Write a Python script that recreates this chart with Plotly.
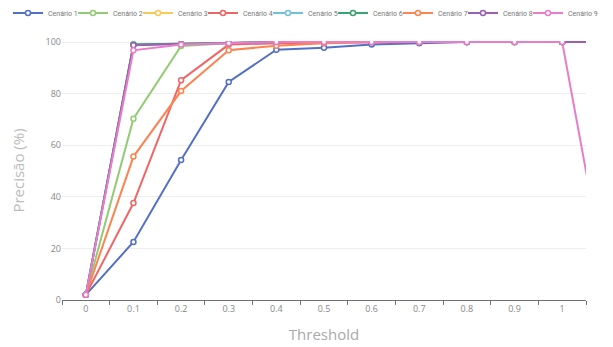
import plotly.graph_objects as go

thresholds = [0, 0.1, 0.2, 0.3, 0.4, 0.5, 0.6, 0.7, 0.8, 0.9, 1.0, 1.1]
tick_labels = ["0", "0.1", "0.2", "0.3", "0.4", "0.5", "0.6", "0.7", "0.8", "0.9", "1"]

cenario_1 = [2, 22.5, 54.3, 84.5, 97, 97.8, 99, 99.5, 100, 100, 100, 100]
cenario_2 = [2, 70.3, 98.5, 99.5, 100, 100, 100, 100, 100, 100, 100, 100]
cenario_3 = [2, 99, 99.3, 99.6, 100, 100, 100, 100, 100, 100, 100, 100]
cenario_4 = [2, 37.6, 85.2, 99, 99.5, 99.7, 100, 100, 100, 100, 100, 100]
cenario_5 = [2, 99, 99.3, 99.6, 100, 100, 100, 100, 100, 100, 100, 100]
cenario_6 = [2, 99, 99.3, 99.6, 100, 100, 100, 100, 100, 100, 100, 100]
cenario_7 = [2, 55.6, 81, 96.8, 98.6, 99.5, 100, 100, 100, 100, 100, 100]
cenario_8 = [2, 98.8, 99.2, 99.6, 100, 100, 100, 100, 100, 100, 100, 100]
cenario_9 = [2, 96.8, 99, 99.5, 100, 100, 100, 100, 100, 100, 100, 0]

series_names = ["Cenário 1", "Cenário 2", "Cenário 3", "Cenário 4", "Cenário 5",
                "Cenário 6", "Cenário 7", "Cenário 8", "Cenário 9"]
series_values = [cenario_1, cenario_2, cenario_3, cenario_4, cenario_5,
                 cenario_6, cenario_7, cenario_8, cenario_9]
colors = ["#5470c6", "#91cc75", "#fac858", "#ee6666", "#73c0de",
          "#3ba272", "#fc8452", "#9a60b4", "#ea7ccc"]

FONT = "Open Sans, Noto Sans, sans-serif"
LEGEND_FONT = "Roboto, Liberation Sans, sans-serif"
# page has an 8px body margin, so the figure is sized to fill the rest
W, H = 605, 339
LEGEND_X0, LEGEND_STEP = 0, 65

fig = go.Figure()
legend_layouts = {}
for i, (name, vals, col) in enumerate(zip(series_names, series_values, colors)):
    lg = "legend" if i == 0 else f"legend{i + 1}"
    fig.add_trace(go.Scatter(
        x=thresholds, y=vals, name=name, mode="lines+markers",
        line=dict(color=col, width=2),
        marker=dict(symbol="circle", size=5, color="white",
                    line=dict(color=col, width=1.5)),
        cliponaxis=True, legend=lg,
    ))
    legend_layouts[lg] = dict(
        orientation="h", xref="container", yref="container",
        x=(LEGEND_X0 + i * LEGEND_STEP) / W, xanchor="left",
        y=1 - 5 / H, yanchor="middle",
        font=dict(size=7, color="#777777", family=LEGEND_FONT),
        itemwidth=30, bgcolor="rgba(0,0,0,0)", borderwidth=0,
    )

fig.update_layout(
    width=W, height=H,
    margin=dict(l=54, r=27, t=33, b=47, autoexpand=False),
    paper_bgcolor="white", plot_bgcolor="white",
    font=dict(family=FONT, color="#6e7079", size=9),
    showlegend=True,
    xaxis=dict(
        range=[-0.05, 1.05],
        tickvals=thresholds[:11], ticktext=tick_labels, ticks="",
        showgrid=False, zeroline=False,
        showline=True, linecolor="#6e7079", linewidth=1,
        minor=dict(ticks="outside", tick0=-0.05, dtick=0.1, ticklen=4,
                   tickcolor="#6e7079", showgrid=False),
        tickfont=dict(size=9, color="#888888"),
        title=dict(text="Threshold", font=dict(size=15, color="#aaaaaa"), standoff=15),
    ),
    yaxis=dict(
        range=[0, 100.4], tickvals=[0, 20, 40, 60, 80, 100],
        showgrid=True, gridcolor="#eeeeee", gridwidth=1,
        zeroline=False, showline=False, ticks="",
        tickfont=dict(size=9, color="#888888"),
        title=dict(text="Precisão (%)", font=dict(size=15, color="#bbbbbb"), standoff=18),
    ),
    **legend_layouts,
)

fig.write_html("out.html")
